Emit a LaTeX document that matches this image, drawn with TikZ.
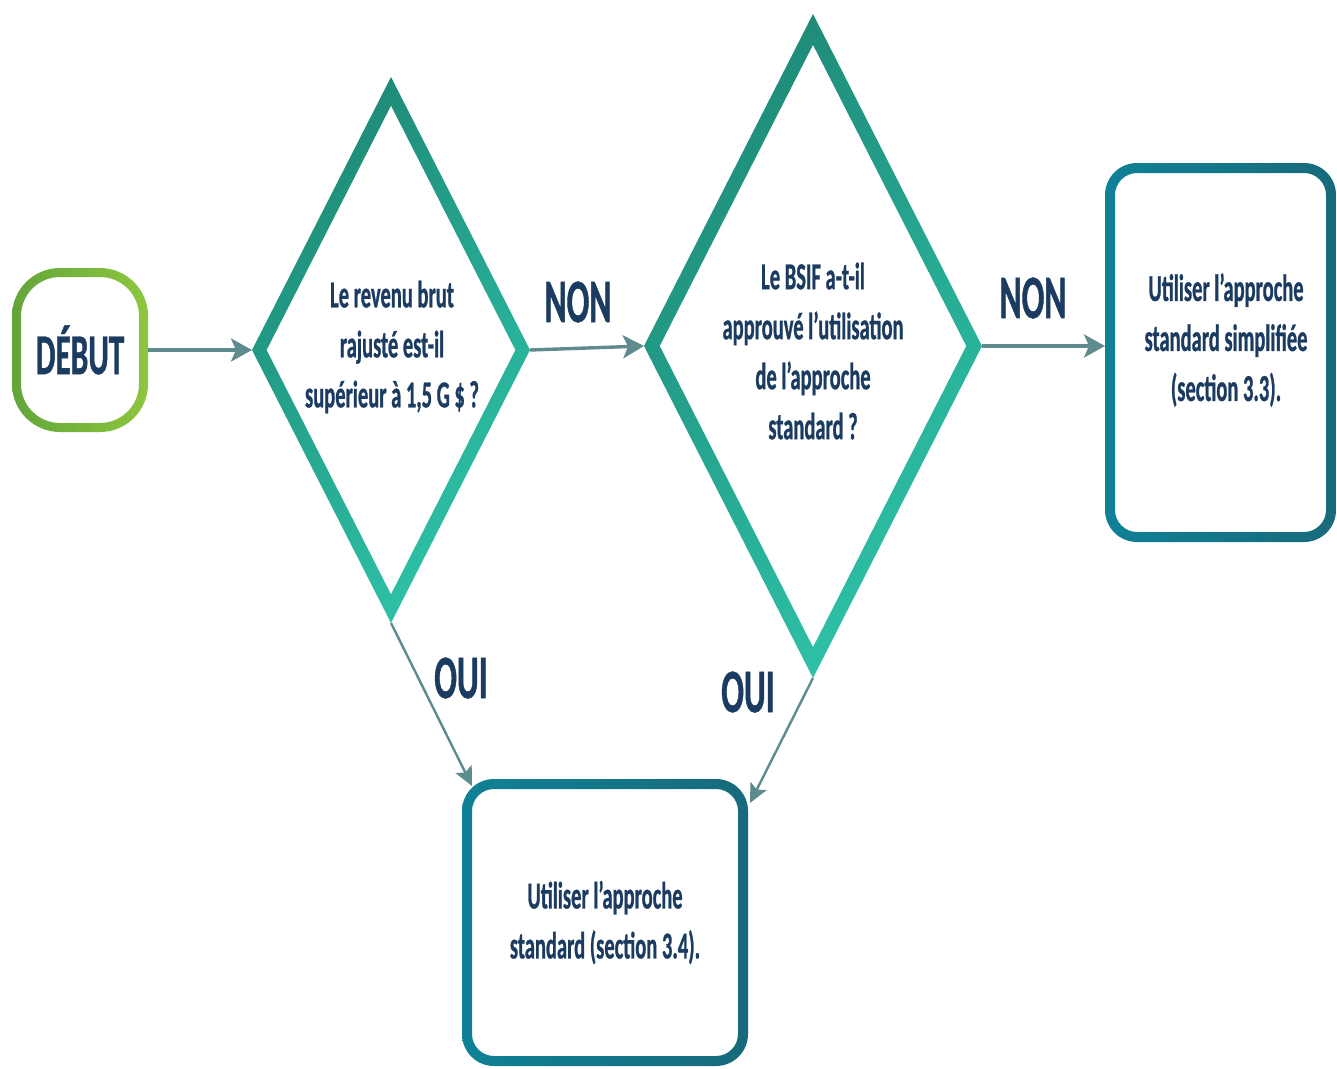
\documentclass[tikz,border=0pt]{standalone}
\usepackage{fontspec}
\newfontfamily\calfont[FakeStretch=0.54,FakeBold=0.7]{Carlito}
\usetikzlibrary{shapes.geometric,arrows.meta,calc}
\definecolor{navy}{HTML}{1B3B60}
\definecolor{arrowc}{HTML}{5E8C8E}
\definecolor{greendk}{HTML}{62A53A}
\definecolor{greenlt}{HTML}{8DC63F}
\definecolor{tealdk}{HTML}{1E8A77}
\definecolor{teallt}{HTML}{2EC2A8}
\definecolor{boxa}{HTML}{0F8196}
\definecolor{boxb}{HTML}{0B869A}
\definecolor{boxdk}{HTML}{176A7B}
\begin{document}
\begin{tikzpicture}[x=1pt,y=1pt,
  arr/.style={draw=arrowc, line width=3.4pt, -{Stealth[length=21pt,width=23pt,inset=5pt]}},
  arrs/.style={draw=arrowc, line width=2.4pt, -{Stealth[length=19pt,width=18pt,inset=4pt]}},
  lbl/.style={text=navy, font=\calfont\bfseries\fontsize{62}{62}\selectfont, inner sep=0pt},
  qtext/.style={text=navy, font=\calfont\bfseries\fontsize{38}{50}\selectfont, align=center, inner sep=0pt},
  shapebox/.style={rectangle, draw=none, outer sep=0pt, inner sep=0pt},
  dia/.style={diamond, shape aspect=0.5, draw=none, outer sep=0pt, inner sep=0pt},
  diashade/.style={even odd rule, top color=tealdk, middle color=teallt, bottom color=teallt, shading angle=45},
  boxshade/.style={even odd rule, left color=boxa, middle color=boxb, right color=boxdk}
]
\useasboundingbox (0,0) rectangle (1337,-1068);

% nodes
\node[shapebox, minimum width=136pt, minimum height=164pt, text=navy,
      font=\calfont\bfseries\fontsize{58}{58}\selectfont] (start) at (80,-350) {DÉBUT};
\node[dia, minimum width=278pt, minimum height=546pt] (d1) at (391,-350) {};
\node[dia, minimum width=338pt, minimum height=664pt] (d2) at (813,-346) {};
\node[shapebox, minimum width=231pt, minimum height=379pt] (b1) at (1220.5,-352.5) {};
\node[shapebox, minimum width=286pt, minimum height=287pt, text=navy,
      font=\calfont\bfseries\fontsize{38}{50}\selectfont, align=center] (b2) at (605,-922.5)
      {Utiliser l’approche\\standard (section 3.4).};

\node[qtext] (d1t) at (392,-347) {Le revenu brut\\rajusté est-il\\supérieur à 1,5 G \$ ?};
\node[qtext] (d2t) at (813,-351) {Le BSIF a-t-il\\approuvé l’utilisation\\de l’approche\\standard ?};
\node[qtext] (b1t) at (1226,-340) {Utiliser l’approche\\standard simplifiée\\(section 3.3).};

% outlines
\shade[even odd rule, left color=greendk, right color=greenlt]
  [rounded corners=48pt] (start.south west) rectangle (start.north east)
  [rounded corners=39pt] ([shift={(9,9)}]start.south west) rectangle ([shift={(-9,-9)}]start.north east);
\shade[diashade] (d1.north) -- (d1.east) -- (d1.south) -- (d1.west) -- cycle
  ($(d1.center)!0.895!(d1.north)$) -- ($(d1.center)!0.895!(d1.east)$) --
  ($(d1.center)!0.895!(d1.south)$) -- ($(d1.center)!0.895!(d1.west)$) -- cycle;
\shade[diashade] (d2.north) -- (d2.east) -- (d2.south) -- (d2.west) -- cycle
  ($(d2.center)!0.907!(d2.north)$) -- ($(d2.center)!0.907!(d2.east)$) --
  ($(d2.center)!0.907!(d2.south)$) -- ($(d2.center)!0.907!(d2.west)$) -- cycle;
\shade[boxshade]
  [rounded corners=32pt] (b1.south west) rectangle (b1.north east)
  [rounded corners=22pt] ([shift={(10,10)}]b1.south west) rectangle ([shift={(-10,-10)}]b1.north east);
\shade[boxshade]
  [rounded corners=32pt] (b2.south west) rectangle (b2.north east)
  [rounded corners=22pt] ([shift={(10,10)}]b2.south west) rectangle ([shift={(-10,-10)}]b2.north east);

% connectors
\coordinate (b2in1) at (472,-786);
\coordinate (b2in2) at (750,-803);
\draw[arr] (start.east) -- (d1.west);
\draw[arr] (d1.east) -- (d2.west);
\draw[arr] (d2.east) -- (b1.west |- d2.east);
\draw[arrs] (d1.south) -- (b2in1);
\draw[arrs] (d2.south) -- (b2in2);

% labels
\node[lbl] (non1) at (578,-302) {NON};
\node[lbl] (non2) at (1033,-298) {NON};
\node[lbl] (oui1) at (461,-678) {OUI};
\node[lbl] (oui2) at (748,-692) {OUI};
\end{tikzpicture}
\end{document}
